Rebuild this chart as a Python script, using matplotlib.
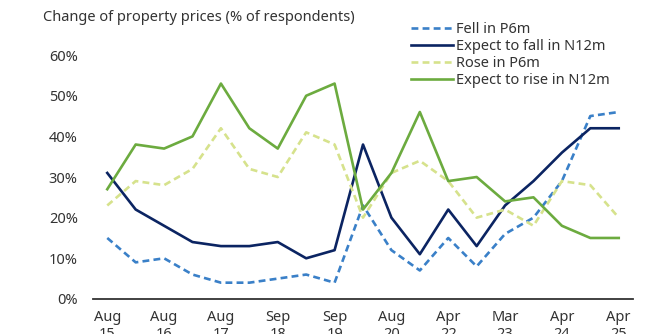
import matplotlib
matplotlib.use("Agg")
import matplotlib.pyplot as plt

plt.rcParams["font.family"] = ["Noto Sans", "DejaVu Sans"]

tick_labels = ["Aug\n15", "Aug\n16", "Aug\n17", "Sep\n18", "Sep\n19",
               "Aug\n20", "Apr\n22", "Mar\n23", "Apr\n24", "Apr\n25"]
fell_p6m = [15, 9, 10, 6, 4, 4, 5, 6, 4, 23, 12, 7, 15, 8, 16, 20, 29, 45, 46]
fall_n12m = [31, 22, 18, 14, 13, 13, 14, 10, 12, 38, 20, 11, 22, 13, 23, 29, 36, 42, 42]
rose_p6m = [23, 29, 28, 32, 42, 32, 30, 41, 38, 20, 31, 34, 29, 20, 22, 18, 29, 28, 20]
rise_n12m = [27, 38, 37, 40, 53, 42, 37, 50, 53, 22, 31, 46, 29, 30, 24, 25, 18, 15, 15]

x = range(len(fell_p6m))

fig = plt.figure(figsize=(6.6, 3.34), dpi=100)
ax = fig.add_axes([0.141, 0.105, 0.818, 0.73])

lw = 1.9
ax.plot(x, fell_p6m, color="#3a80c8", lw=lw, ls=(0, (2.6, 1.6)), label="Fell in P6m")
ax.plot(x, fall_n12m, color="#0b2462", lw=lw, label="Expect to fall in N12m")
ax.plot(x, rose_p6m, color="#d6e28c", lw=lw, ls=(0, (2.6, 1.6)), label="Rose in P6m")
ax.plot(x, rise_n12m, color="#6cab3f", lw=lw, label="Expect to rise in N12m")

ax.set_xlim(-0.5, len(fell_p6m) - 0.5)
ax.set_ylim(0, 60)
ax.set_yticks(range(0, 61, 10))
ax.set_yticklabels([f"{v}%" for v in range(0, 61, 10)])
ax.set_xticks(range(0, len(fell_p6m), 2))
ax.set_xticklabels(tick_labels)

for s in ["top", "right", "left"]:
    ax.spines[s].set_visible(False)
ax.spines["bottom"].set_color("#333333")
ax.spines["bottom"].set_linewidth(1.3)
ax.tick_params(axis="y", length=0, pad=11, labelsize=10.5, colors="#333333")
ax.tick_params(axis="x", length=0, pad=8, labelsize=10.5, colors="#333333")

fig.text(0.065, 0.948, "Change of property prices (% of respondents)",
         fontsize=10.5, color="#333333", va="center")

ax.legend(loc="upper left", bbox_to_anchor=(0.622, 0.935), bbox_transform=fig.transFigure,
          frameon=False, fontsize=10.5, handlelength=2.9, handletextpad=0.25,
          labelspacing=0.14, borderpad=0, borderaxespad=0, labelcolor="#333333")

plt.savefig("out.png", dpi=100)
